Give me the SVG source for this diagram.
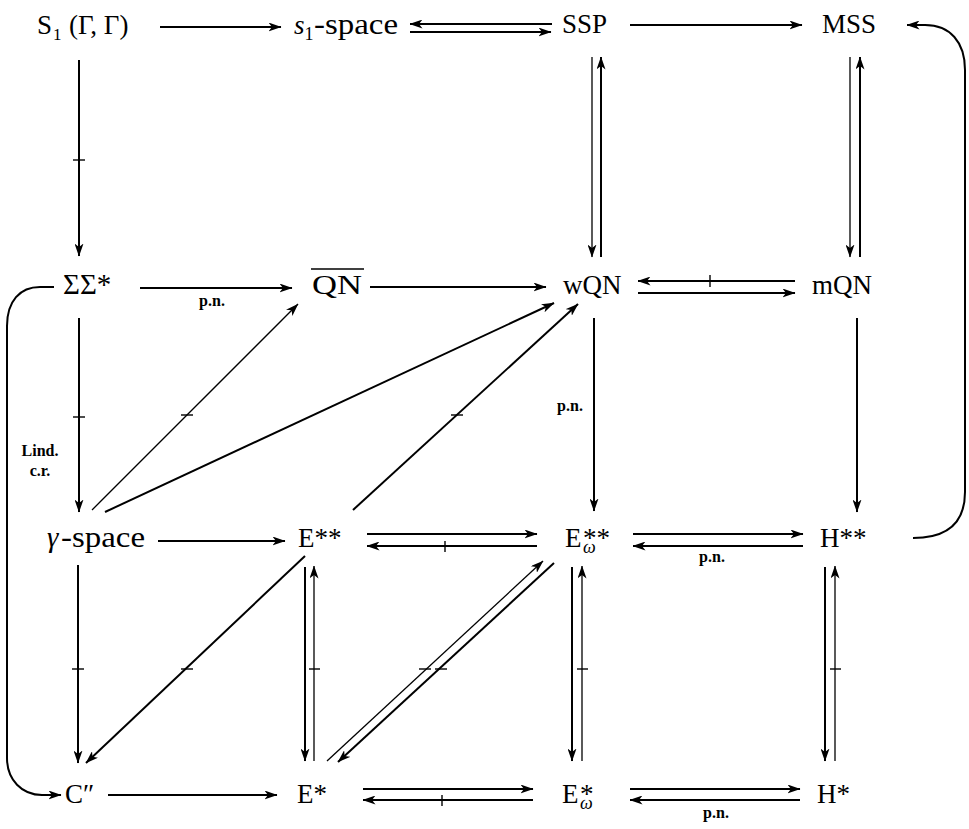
<svg xmlns="http://www.w3.org/2000/svg" width="969" height="829" viewBox="0 0 969 829">
<style>
.n{font-family:"Liberation Serif","Times New Roman",serif;font-size:27px;fill:#000}
.b{font-size:29px}
.s{font-size:18px}
.i{font-style:italic}
.l{font-family:"Liberation Serif","Times New Roman",serif;font-size:16px;font-weight:bold;fill:#000}
.c{stroke:#000;stroke-width:2;fill:none}
.th{stroke-width:1.3}
.a{marker-end:url(#ah)}
.k{stroke:#000;stroke-width:1.4}
</style>
<defs>
<marker id="ah" viewBox="0 0 13 9" refX="12.5" refY="4.5" markerWidth="13" markerHeight="9" markerUnits="userSpaceOnUse" orient="auto">
<path d="M0,0 L13,4.5 L0,9 L3.5,4.5 z" fill="#000"/>
</marker>
</defs>
<rect width="969" height="829" fill="#fff"/>

<g id="n-S1"><text class="n" x="37" y="34">S<tspan font-size="17" x="53" dy="6">1</tspan></text><text class="n" x="69" y="34" font-size="28">(Γ, Γ)</text></g>
<g id="n-s1space"><text class="n" x="294" y="34"><tspan class="i">s</tspan><tspan class="s" dy="6">1</tspan></text><text class="n b" x="314" y="34" textLength="84" lengthAdjust="spacingAndGlyphs">-space</text></g>
<g id="n-SSP"><text class="n" x="562" y="33">SSP</text></g>
<g id="n-MSS"><text class="n" x="822" y="33">MSS</text></g>

<g id="n-SigSig"><text class="n b" x="63" y="294">ΣΣ*</text></g>
<g id="n-QN"><text class="n" x="312" y="294" font-size="30" textLength="50" lengthAdjust="spacingAndGlyphs">QN</text><line x1="311" y1="269" x2="364" y2="269" stroke="#000" stroke-width="1.6"/></g>
<g id="n-wQN"><text class="n" x="563" y="294">wQN</text></g>
<g id="n-mQN"><text class="n" x="812" y="294">mQN</text></g>

<g id="n-gamma"><text class="n b i" x="47" y="547">γ</text><text class="n b" x="61" y="547" textLength="84" lengthAdjust="spacingAndGlyphs">-space</text></g>
<g id="n-E2"><text class="n" x="298" y="547">E**</text></g>
<g id="n-Ew2"><text class="n" x="565" y="547">E</text><text class="n s i" x="583" y="553">ω</text><text class="n" x="583" y="547">**</text></g>
<g id="n-H2"><text class="n" x="820" y="547">H**</text></g>

<g id="n-C"><text class="n" x="65" y="803">C″</text></g>
<g id="n-E1"><text class="n" x="297" y="803">E*</text></g>
<g id="n-Ew1"><text class="n" x="562" y="803">E</text><text class="n s i" x="580" y="809">ω</text><text class="n" x="580" y="803">*</text></g>
<g id="n-H1"><text class="n" x="817" y="803">H*</text></g>

<g id="connectors">
<line class="c a" x1="160" y1="27" x2="281" y2="27"/>
<line class="c a" x1="552" y1="24" x2="410" y2="24"/>
<line class="c a" x1="410" y1="32" x2="551" y2="32"/>
<line class="c a" x1="630" y1="25" x2="802" y2="25"/>
<path class="c a" d="M913,538 C950,538 965,520 965,492 L965,70 C965,42 950,25 925,25 L907,25"/>
<line class="c a" x1="79" y1="60" x2="79" y2="256"/>
<line class="k" x1="73" y1="160" x2="85" y2="160"/>
<line class="c th a" x1="592" y1="57" x2="592" y2="257"/>
<line class="c a" x1="601" y1="257" x2="601" y2="57"/>
<line class="c th a" x1="850" y1="57" x2="850" y2="257"/>
<line class="c a" x1="860" y1="257" x2="860" y2="57"/>
<line class="c a" x1="140" y1="288" x2="292" y2="288"/>
<line class="c a" x1="370" y1="287" x2="546" y2="287"/>
<line class="c a" x1="795" y1="281" x2="638" y2="281"/>
<line class="k" x1="710" y1="275" x2="710" y2="287"/>
<line class="c a" x1="638" y1="293" x2="795" y2="293"/>
<path class="c a" d="M54,287 L40,287 C20,287 7,301 7,326 L7,758 C7,780 22,795 42,795 L61,795"/>
<line class="c a" x1="79" y1="318" x2="79" y2="512"/>
<line class="k" x1="73" y1="417" x2="85" y2="417"/>
<line class="c th a" x1="92" y1="510" x2="298" y2="304"/>
<line class="k" x1="181" y1="415" x2="193" y2="415"/>
<line class="c a" x1="105" y1="512" x2="554" y2="303"/>
<line class="c a" x1="353" y1="510" x2="578" y2="304"/>
<line class="k" x1="451" y1="415" x2="463" y2="415"/>
<line class="c a" x1="594" y1="318" x2="594" y2="511"/>
<line class="c a" x1="857" y1="318" x2="857" y2="512"/>
<line class="c a" x1="158" y1="541" x2="285" y2="541"/>
<line class="c a" x1="367" y1="534" x2="537" y2="534"/>
<line class="c a" x1="537" y1="546" x2="367" y2="546"/>
<line class="k" x1="445" y1="541" x2="445" y2="552"/>
<line class="c a" x1="633" y1="534" x2="803" y2="534"/>
<line class="c a" x1="803" y1="546" x2="633" y2="546"/>
<line class="c a" x1="78" y1="565" x2="78" y2="763"/>
<line class="k" x1="72" y1="669" x2="84" y2="669"/>
<line class="c a" x1="305" y1="556" x2="86" y2="763"/>
<line class="k" x1="181" y1="669" x2="193" y2="669"/>
<line class="c a" x1="305" y1="567" x2="305" y2="761"/>
<line class="c th a" x1="314" y1="761" x2="314" y2="566"/>
<line class="k" x1="309" y1="669" x2="320" y2="669"/>
<line class="c th a" x1="327" y1="761" x2="543" y2="561"/>
<line class="k" x1="419" y1="669" x2="431" y2="669"/>
<line class="c a" x1="554" y1="563" x2="338" y2="762"/>
<line class="k" x1="435" y1="669" x2="447" y2="669"/>
<line class="c a" x1="572" y1="567" x2="572" y2="761"/>
<line class="c th a" x1="582" y1="761" x2="582" y2="566"/>
<line class="k" x1="577" y1="669" x2="588" y2="669"/>
<line class="c a" x1="825" y1="567" x2="825" y2="761"/>
<line class="c th a" x1="835" y1="761" x2="835" y2="566"/>
<line class="k" x1="830" y1="669" x2="841" y2="669"/>
<line class="c a" x1="108" y1="795" x2="277" y2="795"/>
<line class="c a" x1="363" y1="789" x2="533" y2="789"/>
<line class="c a" x1="533" y1="800" x2="363" y2="800"/>
<line class="k" x1="442" y1="795" x2="442" y2="806"/>
<line class="c a" x1="630" y1="789" x2="800" y2="789"/>
<line class="c a" x1="800" y1="800" x2="630" y2="800"/>
</g>

<g id="labels">
<text class="l" x="212" y="306" text-anchor="middle">p.n.</text>
<text class="l" x="40" y="456" text-anchor="middle">Lind.</text>
<text class="l" x="40" y="476" text-anchor="middle">c.r.</text>
<text class="l" x="570" y="411" text-anchor="middle">p.n.</text>
<text class="l" x="712" y="562" text-anchor="middle">p.n.</text>
<text class="l" x="716" y="818" text-anchor="middle">p.n.</text>
</g>
</svg>
